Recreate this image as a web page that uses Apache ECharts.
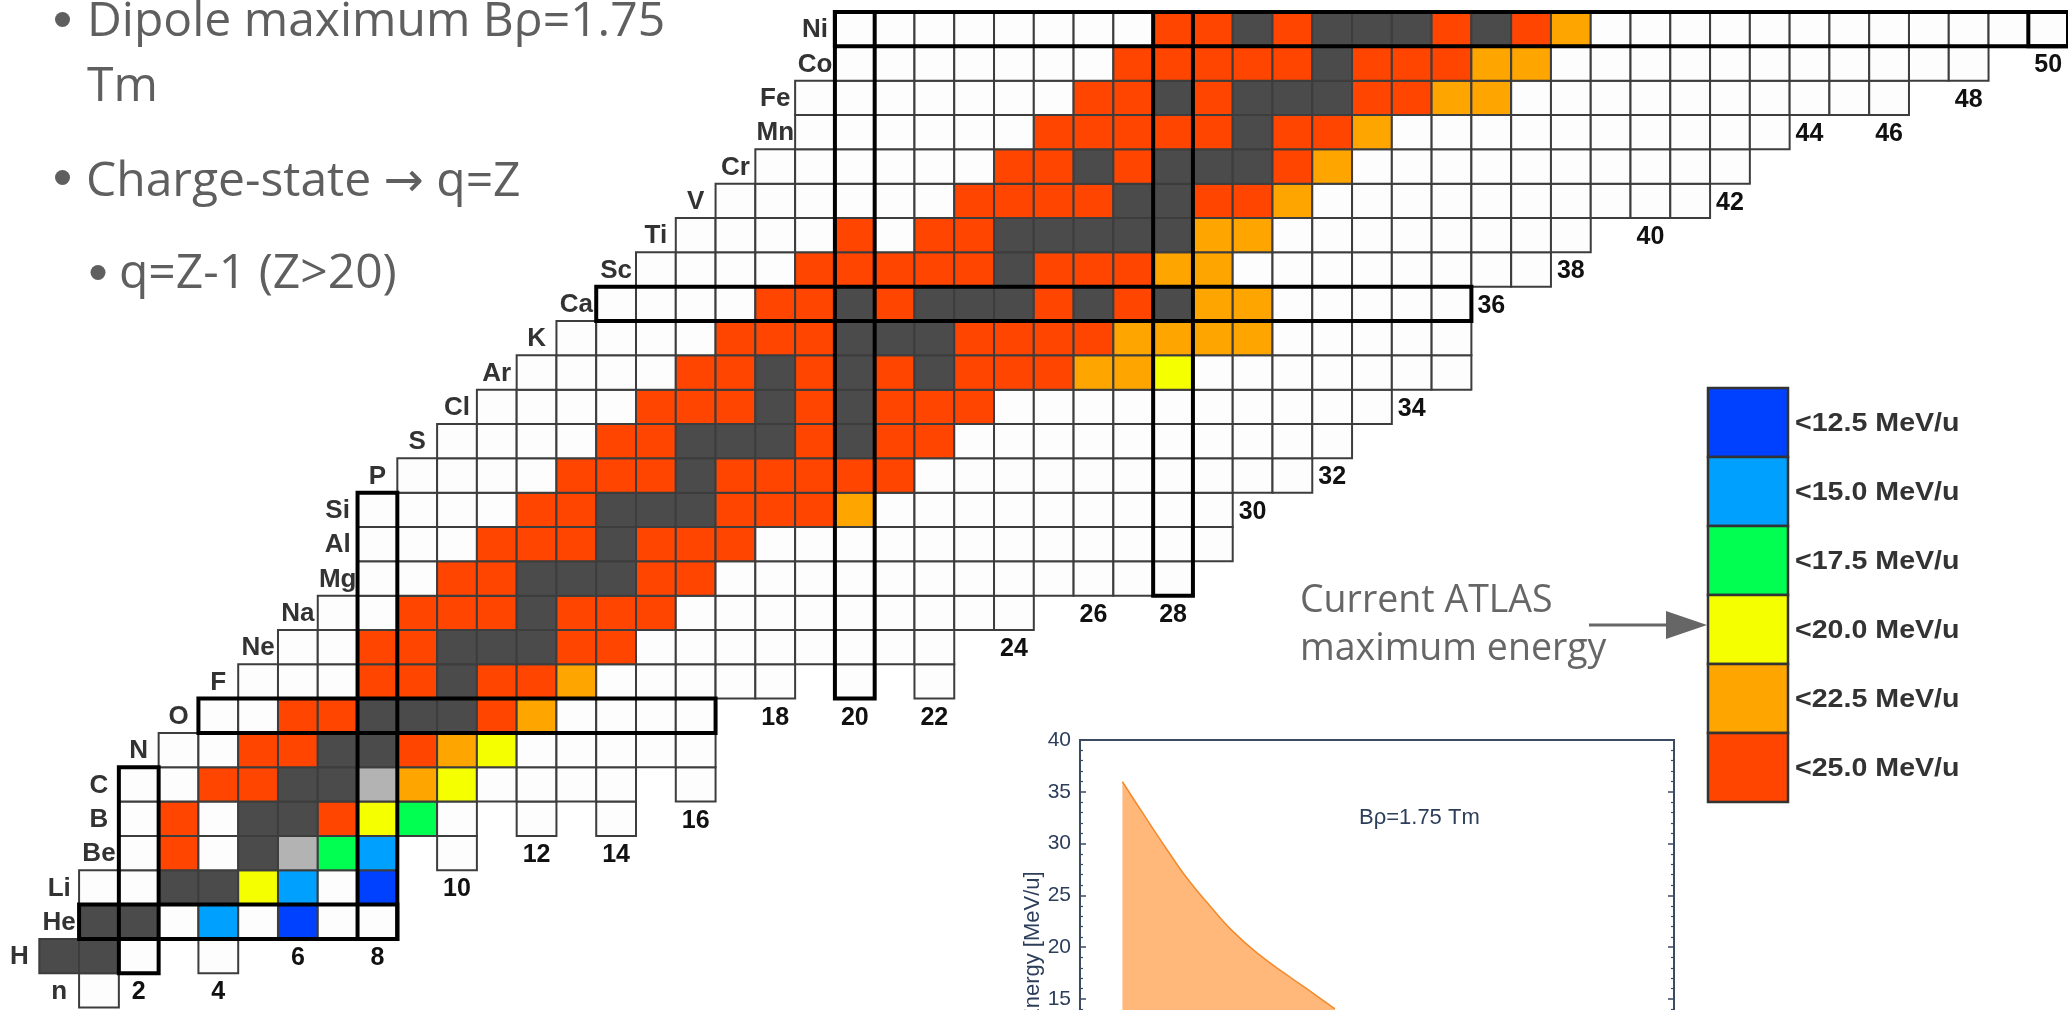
<!DOCTYPE html>
<html>
<head>
<meta charset="utf-8">
<script src="https://cdn.jsdelivr.net/npm/echarts@6/dist/echarts.min.js"></script>
<style>
html,body{margin:0;padding:0;background:#ffffff;}
#chart{width:2068px;height:1010px;}
</style>
</head>
<body>
<div id="chart"></div>
<script>
// ---------- DATA ----------
// element symbol for each proton number Z (row)
const elements = ['n','H','He','Li','Be','B','C','N','O','F','Ne','Na','Mg','Al','Si','P','S','Cl','Ar','K','Ca','Sc','Ti','V','Cr','Mn','Fe','Co','Ni'];
// first neutron number N drawn in each row
const rowStartN = [1,0,1,1,2,2,2,3,4,5,6,7,8,8,8,9,10,11,12,13,14,15,16,17,18,19,19,20,20];
// cell class for each N of the row ('.' = no cell)
// w: beyond reach, k: stable, l: long-lived, r: <25, o: <22.5, y: <20, g: <17.5, c: <15, b: <12.5 MeV/u
const rowCells = [
  'w',
  'kkw.w',
  'kkwcwbww',
  'wwkkycwb',
  'wrwklgc.w',
  'wrwkkrygw.w.w',
  'wwrrkkloywwww.w',
  'wwrrkkroywwwww',
  'wwrrkkkrowwww',
  'wwwrrkrrowwwww.w.w',
  'wwrrkkkrrwwwwwwww',
  'wwrrrkrrrwwwwwwwww',
  'wwrrkkkrrwwwwwwwwwwww',
  'wwwrrrkrrrwwwwwwwwwwww',
  'wwwwrrkkkrrrowwwwwwwww',
  'wwwwrrrkrrrrrwwwwwwwwww',
  'wwwwrrkkkrkrrwwwwwwwwww',
  'wwwwrrrkrkrrrwwwwwwwwww',
  'wwwwrrkrkrkrrrooywwwwwww',
  'wwwwrrrkkkrrrroooowwwww',
  'wwwwrrkrkkkrkrkoowwwww',
  'wwwwrrrrrkrrroowwwwwwww',
  'wwwwrwrrkkkkkoowwwwwwww',
  'wwwwwwrrrrkkrrowwwwwwwwww',
  'wwwwwwrrkrkkkrowwwwwwwwww',
  'wwwwwwrrrrrkrrowwwwwwwwww',
  'wwwwwwwrrkrkkkrroowwwwwwwwww',
  'wwwwwwwrrrrrkrrroowwwwwwwwwww',
  'wwwwwwwwrrkrkkkrkrowwwwwwwwwwww'
];
const cellCodes  = ['w','k','l','r','o','y','g','c','b'];
const cellColors = ['#fdfdfd','#4b4b4b','#b3b3b3','#ff4500','#ffa500','#f5ff00','#00ff50','#00a0ff','#0040ff'];
const magicNumbers = [2, 8, 20, 28, 50];

const legendLabels = ['<12.5 MeV/u','<15.0 MeV/u','<17.5 MeV/u','<20.0 MeV/u','<22.5 MeV/u','<25.0 MeV/u'];
const legendColors = ['#0040ff','#00a0ff','#00ff50','#f5ff00','#ffa500','#ff4500'];

// inset: maximum energy vs A/q for Brho = 1.75 Tm
const insetAoverQ = [2.0, 2.147, 2.278, 2.383, 2.515, 2.646, 2.804, 2.989, 3.12, 3.252];
const insetEnergy = [35.97, 32.26, 29.04, 26.6, 24.0, 21.6, 19.3, 17.1, 15.6, 14.05];

const bulletText = ['Dipole maximum Bρ=1.75', 'Tm', 'Charge-state → q=Z', 'q=Z-1 (Z>20)'];
const annotationText = ['Current ATLAS', 'maximum energy'];
const insetNote = 'Bρ=1.75 Tm';
const insetYName = 'Energy [MeV/u]';

// ---------- DERIVED ----------
const cells = [];
rowCells.forEach((row, z) => {
  for (let i = 0; i < row.length; i++) {
    const k = cellCodes.indexOf(row[i]);
    if (k >= 0) cells.push([rowStartN[z] + i, z, k]);
  }
});
const magicRects = [];
magicNumbers.forEach(m => {
  const r = cells.filter(c => c[1] === m).map(c => c[0]);
  if (r.length) magicRects.push([Math.min(...r), m, Math.max(...r) + 1, m + 1]);
  const col = cells.filter(c => c[0] === m).map(c => c[1]);
  if (col.length) magicRects.push([m, Math.min(...col), m + 1, Math.max(...col) + 1]);
});
const zLabels = elements.map((s, z) => [rowStartN[z] - 0.5, z + 0.5, z]);
const nLabels = [];
for (let n = 2; n <= 50; n += 2) {
  const col = cells.filter(c => c[0] === n).map(c => c[1]);
  if (col.length) nLabels.push([n + 0.5, Math.min(...col) - 0.5, n]);
}
const insetData = insetAoverQ.map((x, i) => [x, insetEnergy[i]]);

// ---------- GRAPHIC ----------
const slideGray = '#5f5f5f';
const slideFont = '48px "Open Sans", "DejaVu Sans", sans-serif';
const graphic = [
  {type:'circle', shape:{cx:62.5, cy:19.5, r:7.5}, style:{fill:slideGray}},
  {type:'text', x:87, y:22, style:{text:bulletText[0], font:slideFont, fill:slideGray, verticalAlign:'middle'}},
  {type:'text', x:87, y:87.5, style:{text:bulletText[1], font:slideFont, fill:slideGray, verticalAlign:'middle'}},
  {type:'circle', shape:{cx:62.5, cy:177.5, r:7.5}, style:{fill:slideGray}},
  {type:'text', x:86, y:182.5, style:{text:bulletText[2], font:slideFont, fill:slideGray, verticalAlign:'middle'}},
  {type:'circle', shape:{cx:98, cy:272.5, r:7.5}, style:{fill:slideGray}},
  {type:'text', x:119, y:274, style:{text:bulletText[3], font:slideFont, fill:slideGray, verticalAlign:'middle'}},
  {type:'text', x:1300, y:601, style:{text:annotationText[0], font:'37.5px "Open Sans", sans-serif', fill:'#666666', verticalAlign:'middle'}},
  {type:'text', x:1300, y:649, style:{text:annotationText[1], font:'37.5px "Open Sans", sans-serif', fill:'#666666', verticalAlign:'middle'}},
  {type:'line', shape:{x1:1589, y1:625, x2:1668, y2:625}, style:{stroke:'#666666', lineWidth:3}},
  {type:'polygon', shape:{points:[[1666,611],[1707,625],[1666,639]]}, style:{fill:'#666666'}},
  {type:'text', x:1359, y:818, z:100, style:{text:insetNote, font:'22px "Liberation Sans", Arial, sans-serif', fill:'#2c3e5a', verticalAlign:'middle'}}
];
legendLabels.forEach((t, i) => {
  graphic.push({type:'rect', shape:{x:1708, y:388 + i * 69, width:80, height:69}, style:{fill:legendColors[i], stroke:'#333333', lineWidth:2.5}});
  graphic.push({type:'text', x:1795, y:388 + i * 69 + 36, scaleX:1.1, style:{text:t, font:'bold 26px "Liberation Sans", Arial, sans-serif', fill:'#333333', verticalAlign:'middle'}});
});

// ---------- CHART ----------
const chart = echarts.init(document.getElementById('chart'), null, {renderer:'canvas', width:2068, height:1010});
const axisCol = '#3b4b61';
chart.setOption({
  animation:false,
  backgroundColor:'#ffffff',
  grid:[
    {left:39.3, top:12, width:2028.8, height:995.6, show:false, containLabel:false, outerBoundsMode:'none'},
    {left:1080, top:740, width:594, height:414.4, show:true, borderColor:axisCol, borderWidth:2, backgroundColor:'#ffffff', containLabel:false, outerBoundsMode:'none'}
  ],
  xAxis:[
    {gridIndex:0, type:'value', min:0, max:51, show:false},
    {gridIndex:1, type:'value', min:1.75, max:5.25, interval:0.125, position:'top',
     axisLine:{show:true, lineStyle:{color:axisCol, width:2}},
     axisTick:{show:true, inside:true, length:5, lineStyle:{color:axisCol, width:1.5}},
     axisLabel:{show:false}, splitLine:{show:false}}
  ],
  yAxis:[
    {gridIndex:0, type:'value', min:0, max:29, show:false},
    {gridIndex:1, type:'value', min:0, max:40, interval:5, position:'left',
     axisLine:{show:true, lineStyle:{color:axisCol, width:2}},
     axisTick:{show:true, inside:true, length:6, lineStyle:{color:axisCol, width:1.5}},
     minorTick:{show:true, splitNumber:5, length:3, lineStyle:{color:axisCol, width:1.2}},
     axisLabel:{show:true, margin:9, fontSize:21, color:'#2c3e5a', fontFamily:'"Liberation Sans", Arial, sans-serif'},
     splitLine:{show:false},
     name:insetYName, nameLocation:'middle', nameGap:34,
     nameTextStyle:{fontSize:22, color:'#2c3e5a', fontFamily:'"Liberation Sans", Arial, sans-serif'}},
    {gridIndex:1, type:'value', min:0, max:40, interval:5, position:'right',
     axisLine:{show:true, lineStyle:{color:axisCol, width:2}},
     axisTick:{show:true, inside:true, length:6, lineStyle:{color:axisCol, width:1.5}},
     minorTick:{show:true, splitNumber:5, length:3, lineStyle:{color:axisCol, width:1.2}},
     axisLabel:{show:false}, splitLine:{show:false}}
  ],
  graphic: graphic,
  series:[
    {type:'custom', xAxisIndex:0, yAxisIndex:0, data:cells, encode:{x:0, y:1}, z:2, silent:true,
     renderItem:(params, api) => {
       const p = api.coord([api.value(0), api.value(1) + 1]);
       const s = api.size([1, 1]);
       return {type:'rect', shape:{x:p[0], y:p[1], width:s[0], height:s[1]},
               style:{fill:cellColors[api.value(2)], stroke:'#3d3d3d', lineWidth:2}};
     }},
    {type:'custom', xAxisIndex:0, yAxisIndex:0, data:magicRects, encode:{x:[0,2], y:[1,3]}, z:3, silent:true,
     renderItem:(params, api) => {
       const p0 = api.coord([api.value(0), api.value(3)]);
       const p1 = api.coord([api.value(2), api.value(1)]);
       return {type:'rect', shape:{x:p0[0], y:p0[1], width:p1[0] - p0[0], height:p1[1] - p0[1]},
               style:{fill:'none', stroke:'#000000', lineWidth:4}};
     }},
    {type:'custom', xAxisIndex:0, yAxisIndex:0, data:zLabels, encode:{x:0, y:1}, z:4, silent:true,
     renderItem:(params, api) => {
       const p = api.coord([api.value(0), api.value(1)]);
       return {type:'text', x:p[0], y:p[1] + 1,
               style:{text:elements[api.value(2)], font:'bold 26px "Liberation Sans", Arial, sans-serif', fill:'#333333', align:'center', verticalAlign:'middle'}};
     }},
    {type:'custom', xAxisIndex:0, yAxisIndex:0, data:nLabels, encode:{x:0, y:1}, z:4, silent:true,
     renderItem:(params, api) => {
       const p = api.coord([api.value(0), api.value(1)]);
       return {type:'text', x:p[0], y:p[1] + 2,
               style:{text:String(api.value(2)), font:'bold 25px "Liberation Sans", Arial, sans-serif', fill:'#111111', align:'center', verticalAlign:'middle'}};
     }},
    {type:'line', xAxisIndex:1, yAxisIndex:1, data:insetData, smooth:true, symbol:'none', z:5,
     lineStyle:{color:'#f08a2c', width:1.5},
     areaStyle:{color:'#ffb87a', opacity:1}}
  ]
});
</script>
</body>
</html>
